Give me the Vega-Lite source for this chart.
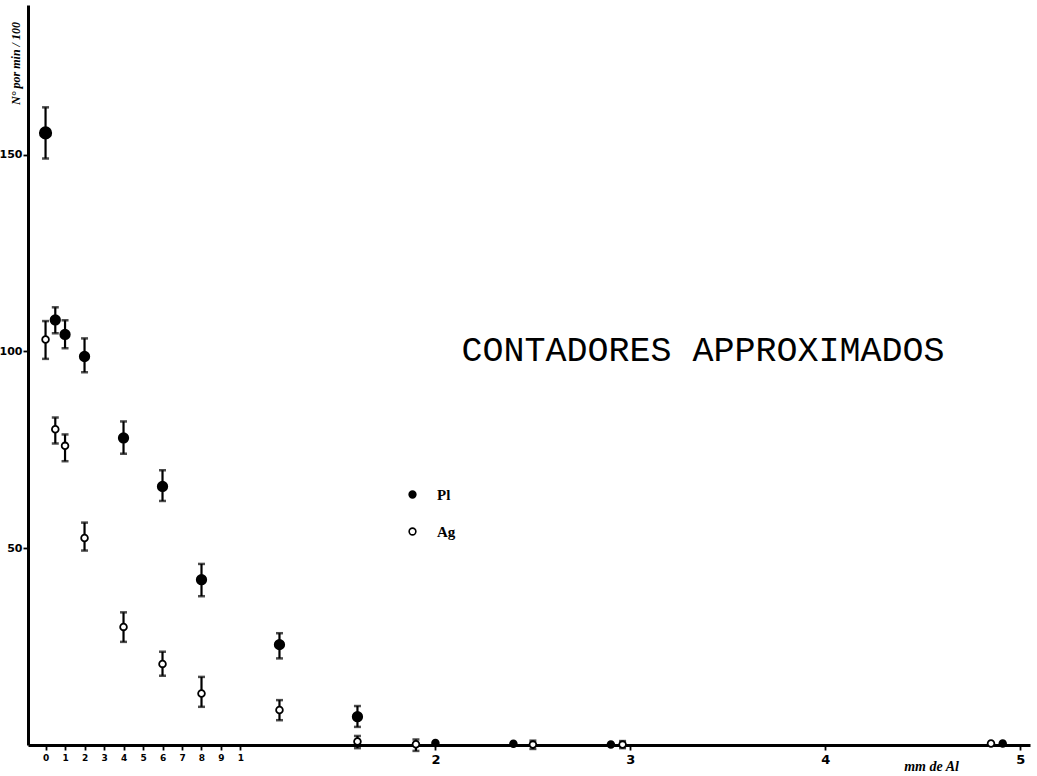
{
  "$schema": "https://vega.github.io/schema/vega-lite/v6.json",
  "width": 1002,
  "height": 740,
  "autosize": "none",
  "padding": {"left": 28, "top": 5, "right": 7, "bottom": 31},
  "background": "white",
  "config": {"view": {"stroke": null}},
  "data": {
    "values": [
      {"metal": "Pl", "mm": 0, "n": 155.5, "lo": 149, "hi": 162},
      {"metal": "Pl", "mm": 0.05, "n": 108, "lo": 104.6, "hi": 111.2},
      {"metal": "Pl", "mm": 0.1, "n": 104.3, "lo": 100.8, "hi": 107.9},
      {"metal": "Pl", "mm": 0.2, "n": 98.7, "lo": 94.7, "hi": 103.3},
      {"metal": "Pl", "mm": 0.4, "n": 78, "lo": 74, "hi": 82.2},
      {"metal": "Pl", "mm": 0.6, "n": 65.7, "lo": 62, "hi": 69.8},
      {"metal": "Pl", "mm": 0.8, "n": 42, "lo": 37.8, "hi": 46},
      {"metal": "Pl", "mm": 1.2, "n": 25.5, "lo": 22, "hi": 28.4},
      {"metal": "Pl", "mm": 1.6, "n": 7.2, "lo": 4.6, "hi": 9.9},
      {"metal": "Pl", "mm": 2.0, "n": 0.5, "lo": null, "hi": null},
      {"metal": "Pl", "mm": 2.4, "n": 0.3, "lo": null, "hi": null},
      {"metal": "Pl", "mm": 2.9, "n": 0.1, "lo": null, "hi": null},
      {"metal": "Pl", "mm": 4.91, "n": 0.4, "lo": null, "hi": null},
      {"metal": "Ag", "mm": 0, "n": 103, "lo": 98.1, "hi": 107.7},
      {"metal": "Ag", "mm": 0.05, "n": 80.2, "lo": 76.6, "hi": 83.2},
      {"metal": "Ag", "mm": 0.1, "n": 76, "lo": 72.1, "hi": 78.9},
      {"metal": "Ag", "mm": 0.2, "n": 52.6, "lo": 49.4, "hi": 56.5},
      {"metal": "Ag", "mm": 0.4, "n": 30, "lo": 26.2, "hi": 33.7},
      {"metal": "Ag", "mm": 0.6, "n": 20.6, "lo": 17.6, "hi": 23.7},
      {"metal": "Ag", "mm": 0.8, "n": 13.1, "lo": 9.7, "hi": 17.3},
      {"metal": "Ag", "mm": 1.2, "n": 8.9, "lo": 6.3, "hi": 11.4},
      {"metal": "Ag", "mm": 1.6, "n": 0.9, "lo": -0.8, "hi": 2.3},
      {"metal": "Ag", "mm": 1.9, "n": 0.2, "lo": -1.5, "hi": 1.4},
      {"metal": "Ag", "mm": 2.5, "n": 0.1, "lo": -1, "hi": 1.1},
      {"metal": "Ag", "mm": 2.96, "n": 0.1, "lo": -0.8, "hi": 1},
      {"metal": "Ag", "mm": 4.85, "n": 0.4, "lo": null, "hi": null}
    ]
  },
  "layer": [
    {
      "transform": [{"filter": "isValid(datum.lo)"}],
      "mark": {"type": "errorbar", "thickness": 2.2, "color": "black", "ticks": {"size": 7, "thickness": 2.5, "color": "black"}},
      "encoding": {
        "x": {"field": "mm", "type": "quantitative", "scale": {"domain": [-0.09, 5.05], "nice": false, "zero": false},
          "axis": {
            "values": [0, 0.1, 0.2, 0.3, 0.4, 0.5, 0.6, 0.7, 0.8, 0.9, 1, 2, 3, 4, 5],
            "labelExpr": "datum.value < 0.95 ? format(round(datum.value * 10), 'd') : format(datum.value, 'd')",
            "labelFontSize": {"condition": {"test": "datum.value > 1.05", "value": 13}, "value": 9},
            "labelFont": "DejaVu Sans",
            "labelFontWeight": "bold",
            "labelColor": "black",
            "labelPadding": 3,
            "labelFlush": false,
            "labelOverlap": false,
            "domainColor": "black",
            "domainWidth": 3,
            "tickColor": "black",
            "tickWidth": 1.8,
            "tickSize": 5,
            "grid": false,
            "title": "mm de Al",
            "titleFont": "Liberation Serif",
            "titleFontStyle": "italic",
            "titleFontWeight": "bold",
            "titleFontSize": 14,
            "titleColor": "black",
            "titleX": 903,
            "titleY": 21,
            "titleAlign": "center",
            "titleBaseline": "middle"
          }
        },
        "y": {"field": "lo", "type": "quantitative", "scale": {"domain": [0, 188], "nice": false, "zero": false},
          "axis": {
            "values": [50, 100, 150],
            "labelFont": "DejaVu Sans",
            "labelFontWeight": "bold",
            "labelFontSize": 11,
            "labelColor": "black",
            "labelPadding": 1,
            "domainColor": "black",
            "domainWidth": 3,
            "tickColor": "black",
            "tickWidth": 1.8,
            "tickSize": 5,
            "grid": false,
            "title": "N° por min / 100",
            "titleFont": "Liberation Serif",
            "titleFontStyle": "italic",
            "titleFontWeight": "bold",
            "titleFontSize": 12,
            "titleColor": "black",
            "titleAngle": 270,
            "titleX": -13,
            "titleY": 58,
            "titleAlign": "center",
            "titleBaseline": "middle"
          }
        },
        "y2": {"field": "hi"}
      }
    },
    {
      "mark": {"type": "point", "shape": "circle", "filled": true, "stroke": "black", "strokeWidth": 1.8, "opacity": 1},
      "encoding": {
        "x": {"field": "mm", "type": "quantitative"},
        "y": {"field": "n", "type": "quantitative"},
        "fill": {"field": "metal", "type": "nominal",
          "scale": {"domain": ["Pl", "Ag"], "range": ["black", "white"]},
          "legend": {
            "orient": "none",
            "legendX": 377,
            "legendY": 482,
            "title": null,
            "symbolType": "circle",
            "symbolSize": 45,
            "symbolStrokeColor": "black",
            "symbolStrokeWidth": 1.6,
            "rowPadding": 21,
            "labelOffset": 17,
            "labelFont": "Liberation Serif",
            "labelFontWeight": "bold",
            "labelFontSize": 15,
            "labelColor": "black",
            "padding": 0
          }
        },
        "size": {
          "condition": [
            {"test": "datum.metal == 'Pl' && datum.n > 150", "value": 130},
            {"test": "datum.metal == 'Pl' && datum.n < 1", "value": 45},
            {"test": "datum.metal == 'Pl'", "value": 90}
          ],
          "value": 45
        }
      }
    },
    {
      "data": {"values": [{"label": "CONTADORES  APPROXIMADOS"}]},
      "mark": {"type": "text", "font": "Liberation Mono", "fontSize": 35, "color": "black", "align": "center", "baseline": "middle"},
      "encoding": {
        "text": {"field": "label"},
        "x": {"datum": 3.373},
        "y": {"datum": 100.3}
      }
    }
  ]
}
